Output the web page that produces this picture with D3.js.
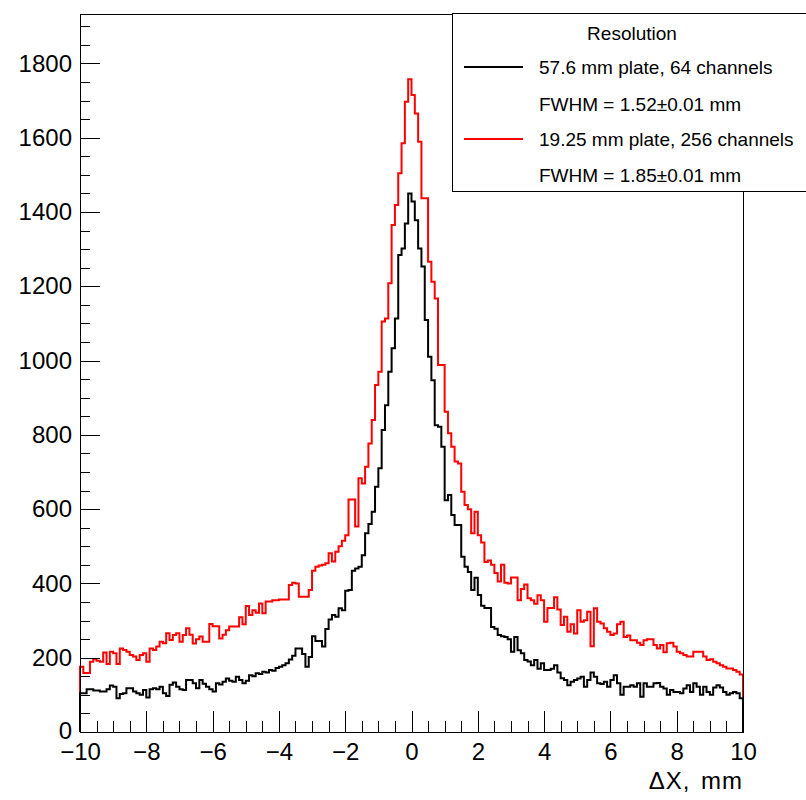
<!DOCTYPE html>
<html>
<head>
<meta charset="utf-8">
<script src="https://cdn.jsdelivr.net/npm/d3@7"></script>
<style>
  body { margin: 0; background: #fff; }
  svg { display: block; font-family: "Liberation Sans", Arial, Helvetica, sans-serif; }
</style>
</head>
<body>
<div id="chart"></div>
<script>
// Histogram binning: 200 bins of 0.1 mm from -10 to 10
const xMin = -10;
const xMax = 10;
const binWidth = 0.1;

// 57.6 mm plate, 64 channels (black)
const plate64 = [
  104, 104, 115, 115, 112, 112, 109, 109, 115, 125,
  122, 91, 102, 104, 118, 118, 109, 104, 100, 113,
  93, 115, 118, 115, 122, 104, 97, 127, 133, 122,
  115, 113, 140, 140, 131, 118, 140, 130, 122, 115,
  109, 131, 128, 135, 144, 138, 135, 149, 140, 131,
  138, 153, 150, 158, 156, 162, 160, 167, 165, 172,
  176, 180, 185, 195, 205, 225, 225, 210, 176, 202,
  258, 245, 245, 230, 277, 303, 315, 310, 333, 328,
  380, 382, 434, 440, 445, 476, 535, 560, 593, 660,
  710, 813, 880, 970, 1033, 1113, 1284, 1302, 1369, 1450,
  1428, 1378, 1302, 1253, 1109, 1010, 947, 826, 822, 768,
  624, 638, 584, 557, 557, 472, 445, 431, 382, 415,
  369, 340, 334, 334, 283, 278, 261, 258, 256, 250,
  216, 256, 220, 212, 194, 190, 180, 194, 170, 185,
  167, 167, 170, 180, 160, 145, 140, 126, 135, 140,
  144, 149, 122, 140, 160, 149, 131, 129, 135, 122,
  140, 153, 131, 100, 122, 122, 126, 122, 131, 95,
  131, 122, 122, 131, 132, 122, 117, 100, 113, 108,
  108, 104, 117, 126, 108, 131, 122, 100, 122, 108,
  100, 120, 126, 120, 108, 100, 104, 108, 104, 91
];

// 19.25 mm plate, 256 channels (red)
const plate256 = [
  176, 159, 159, 189, 196, 192, 189, 214, 183, 216,
  212, 183, 225, 221, 216, 207, 203, 194, 207, 212,
  189, 225, 221, 230, 243, 239, 266, 248, 261, 266,
  243, 261, 279, 262, 238, 250, 257, 243, 243, 291,
  285, 285, 252, 262, 274, 284, 284, 284, 309, 290,
  339, 315, 328, 321, 346, 320, 351, 351, 355, 355,
  357, 357, 357, 396, 402, 400, 364, 364, 364, 382,
  434, 445, 448, 450, 454, 481, 459, 485, 500, 515,
  530, 626, 626, 553, 683, 669, 714, 777, 840, 934,
  970, 1105, 1113, 1208, 1365, 1419, 1504, 1585, 1697, 1757,
  1715, 1665, 1589, 1437, 1437, 1266, 1212, 1167, 988, 988,
  862, 804, 768, 728, 723, 647, 611, 600, 535, 593,
  530, 510, 458, 462, 450, 428, 405, 450, 402, 400,
  416, 416, 355, 385, 397, 360, 355, 345, 368, 355,
  297, 334, 334, 363, 330, 288, 310, 270, 290, 265,
  328, 297, 301, 324, 231, 333, 297, 292, 279, 270,
  261, 265, 290, 297, 256, 260, 247, 247, 240, 234,
  247, 250, 250, 234, 225, 234, 215, 239, 240, 230,
  216, 212, 207, 203, 203, 216, 216, 216, 203, 194,
  196, 189, 185, 180, 176, 171, 171, 167, 162, 155
];

const yMax = 1933;
const xTicks = [-10, -8, -6, -4, -2, 0, 2, 4, 6, 8, 10];
const yTicks = [0, 200, 400, 600, 800, 1000, 1200, 1400, 1600, 1800];
const xTitle = "\u0394X, mm";

const legendTitle = "Resolution";
const legendEntries = [
  { text: "57.6 mm plate, 64 channels", color: "#000000", line: true },
  { text: "FWHM = 1.52\u00b10.01 mm", color: null, line: false },
  { text: "19.25 mm plate, 256 channels", color: "#ff0000", line: true },
  { text: "FWHM = 1.85\u00b10.01 mm", color: null, line: false }
];

const width = 806, height = 800;
const margin = { left: 80, right: 63, top: 14, bottom: 68 };

const svg = d3.select("#chart").append("svg")
  .attr("width", width)
  .attr("height", height);

const x = d3.scaleLinear().domain([xMin, xMax]).range([margin.left, width - margin.right]);
const y = d3.scaleLinear().domain([0, yMax]).range([height - margin.bottom, margin.top]);

// step outline like a ROOT histogram
function histPath(values) {
  const pts = [[xMin, 0]];
  values.forEach((v, i) => pts.push([xMin + i * binWidth, v]));
  pts.push([xMax, values[values.length - 1]]);
  pts.push([xMax, 0]);
  const line = d3.line()
    .x(d => x(d[0]))
    .y(d => y(d[1]))
    .curve(d3.curveStepAfter);
  return line(pts);
}

const plot = svg.append("g");

plot.append("path")
  .attr("d", histPath(plate256))
  .attr("fill", "none")
  .attr("stroke", "#ff0000")
  .attr("stroke-width", 2);

plot.append("path")
  .attr("d", histPath(plate64))
  .attr("fill", "none")
  .attr("stroke", "#000000")
  .attr("stroke-width", 2);

// frame top & right
svg.append("path")
  .attr("d", `M${x(xMin)},${y(yMax)}H${x(xMax)}V${y(0)}`)
  .attr("fill", "none")
  .attr("stroke", "#000")
  .attr("stroke-width", 1)
  .attr("shape-rendering", "crispEdges");

// minor ticks
const xMinor = d3.range(xMin, xMax + 0.001, 0.5).filter(v => Math.abs(v / 2 - Math.round(v / 2)) > 1e-6);
const yMinor = d3.range(0, yMax, 50).filter(v => v % 200 !== 0);

svg.append("g")
  .attr("transform", `translate(0,${y(0)})`)
  .call(d3.axisBottom(x).tickValues(xMinor).tickSizeInner(-11).tickSizeOuter(0).tickFormat(""))
  .call(g => g.select(".domain").remove());

svg.append("g")
  .attr("transform", `translate(${x(xMin)},0)`)
  .call(d3.axisLeft(y).tickValues(yMinor).tickSizeInner(-10).tickSizeOuter(0).tickFormat(""))
  .call(g => g.select(".domain").remove());

// major axes
const xAxis = svg.append("g")
  .attr("transform", `translate(0,${y(0)})`)
  .call(d3.axisBottom(x).tickValues(xTicks).tickSizeInner(-21).tickSizeOuter(0).tickPadding(11));

const yAxis = svg.append("g")
  .attr("transform", `translate(${x(xMin)},0)`)
  .call(d3.axisLeft(y).tickValues(yTicks).tickSizeInner(-20).tickSizeOuter(0).tickPadding(8).tickFormat(d3.format("d")));

svg.selectAll(".tick line, .domain").attr("stroke", "#000").attr("shape-rendering", "crispEdges");
xAxis.selectAll("text").attr("font-size", 24).attr("font-family", "Liberation Sans, Arial, sans-serif").attr("fill", "#000");
yAxis.selectAll("text").attr("font-size", 24).attr("font-family", "Liberation Sans, Arial, sans-serif").attr("fill", "#000");
// "0" sits right above the "-10" label; lift it slightly
yAxis.selectAll(".tick").filter(d => d === 0).select("text").attr("dy", "0.26em");

svg.append("text")
  .attr("x", x(xMax))
  .attr("y", 789)
  .attr("text-anchor", "end")
  .attr("font-size", 24)
  .attr("word-spacing", 3)
  .attr("letter-spacing", 1)
  .attr("fill", "#000")
  .text(xTitle);

// legend
const legend = svg.append("g");
legend.append("rect")
  .attr("x", 452.5).attr("y", 13.5)
  .attr("width", 360).attr("height", 178)
  .attr("fill", "#fff")
  .attr("stroke", "#000")
  .attr("stroke-width", 1);

legend.append("text")
  .attr("x", 632).attr("y", 33)
  .attr("dy", "0.35em")
  .attr("text-anchor", "middle")
  .attr("font-size", 19)
  .text(legendTitle);

const rowY = [67, 104, 139, 175];
legendEntries.forEach((e, i) => {
  if (e.line) {
    legend.append("line")
      .attr("x1", 464).attr("x2", 523)
      .attr("y1", rowY[i]).attr("y2", rowY[i])
      .attr("stroke", e.color)
      .attr("stroke-width", 2);
  }
  legend.append("text")
    .attr("x", 539).attr("y", rowY[i])
    .attr("dy", "0.35em")
    .attr("font-size", 19)
    .text(e.text);
});
</script>
</body>
</html>
